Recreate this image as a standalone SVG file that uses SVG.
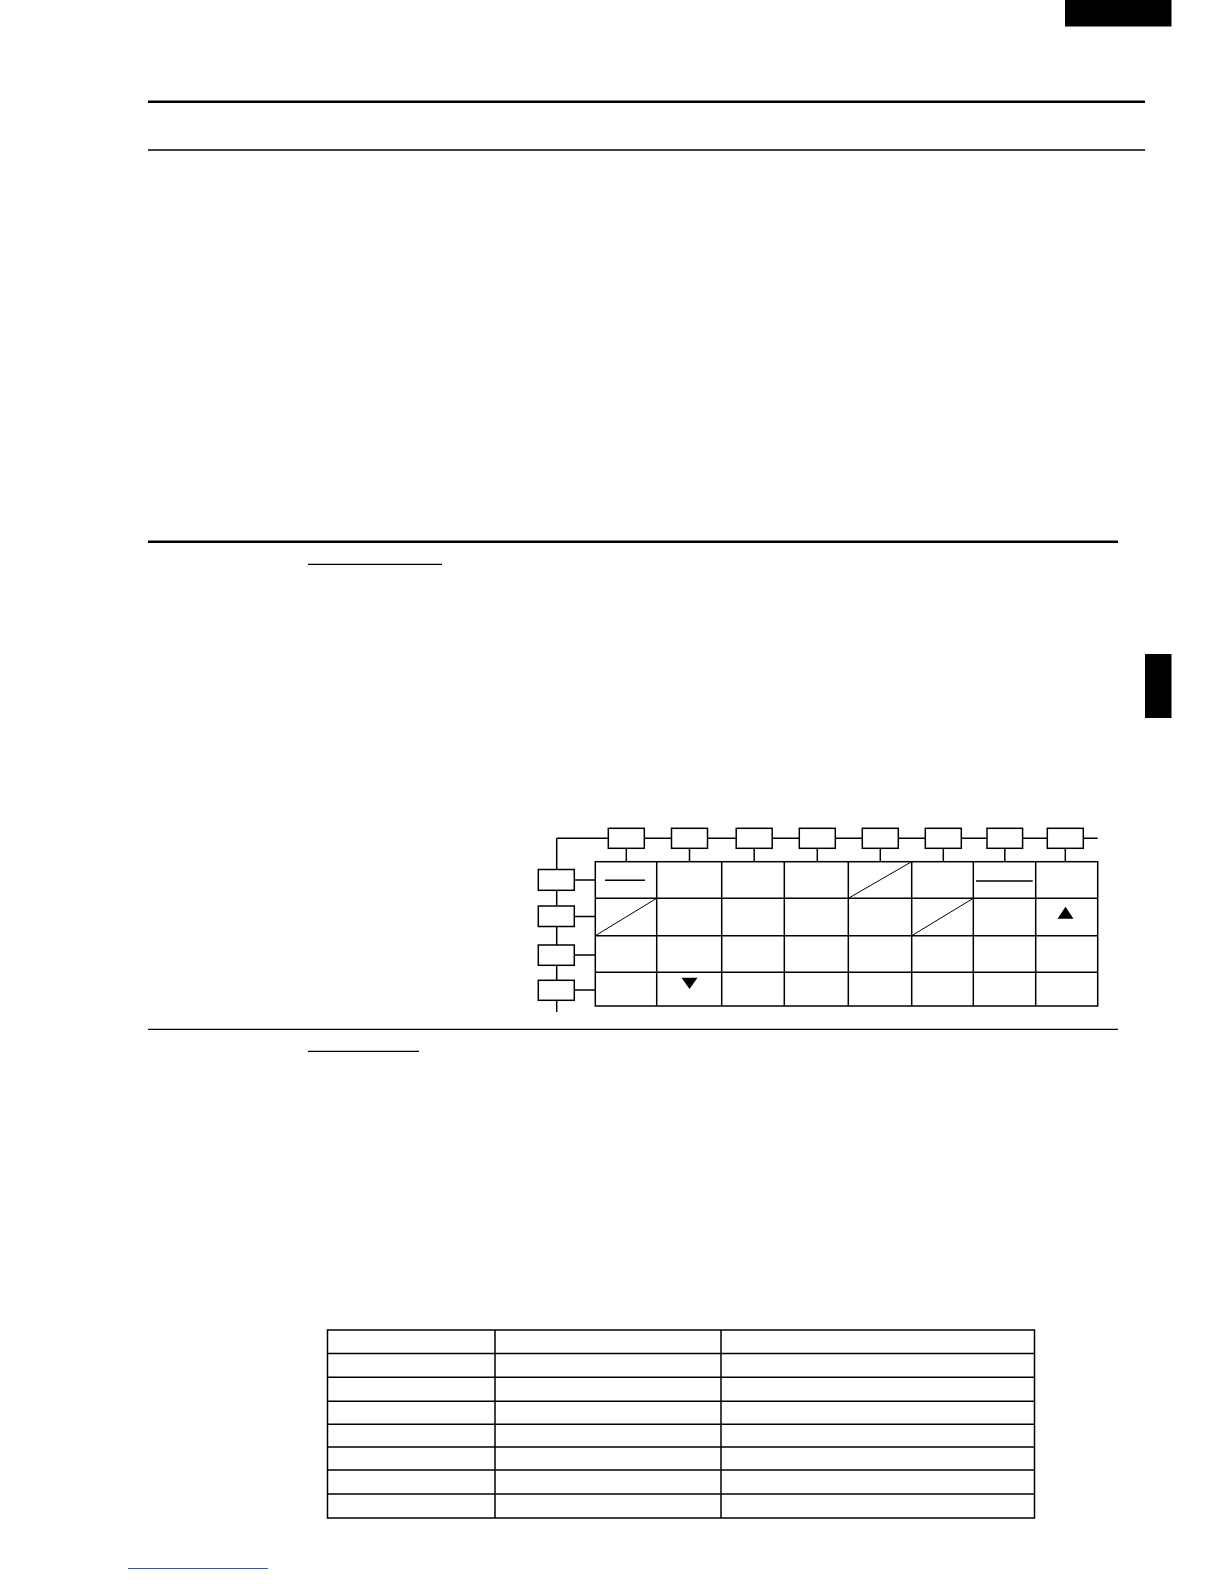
<svg xmlns="http://www.w3.org/2000/svg" width="1224" height="1584" viewBox="0 0 1224 1584">
<style>
.rule{stroke:#000;stroke-width:1.3;fill:none}
.thick{stroke:#000;stroke-width:2.4;fill:none}
.box{fill:#fff;stroke:#000;stroke-width:1.5}
.ln{stroke:#000;stroke-width:1.5;fill:none}
.diag{stroke:#000;stroke-width:1;fill:none}
.tri{fill:#000}
</style>
<rect width="1224" height="1584" fill="#fff"/>
<g id="page">
<rect x="1065" y="0" width="106.5" height="26.5" fill="#000"/>
<rect x="1145" y="654" width="26.5" height="64" fill="#000"/>
<line class="thick" x1="148" y1="101.7" x2="1145" y2="101.7"/>
<line class="rule" x1="148" y1="150" x2="1145" y2="150"/>
<line class="thick" x1="148" y1="541.7" x2="1118" y2="541.7"/>
<line class="rule" x1="308" y1="564.3" x2="442" y2="564.3"/>
<line class="rule" x1="148" y1="1029.3" x2="1118" y2="1029.3"/>
<line class="rule" x1="308" y1="1051.3" x2="419" y2="1051.3"/>
<line x1="128" y1="1568.5" x2="268" y2="1568.5" stroke="#3355cc" stroke-width="1"/>
</g>
<g id="connectors">
<line class="ln" x1="556.7" y1="838.3" x2="1097.7" y2="838.3"/>
<line class="ln" x1="556.7" y1="838.3" x2="556.7" y2="1012"/>
<line class="ln" x1="626.3" y1="848.3" x2="626.3" y2="861.7"/>
<line class="ln" x1="689.5" y1="848.3" x2="689.5" y2="861.7"/>
<line class="ln" x1="754.2" y1="848.3" x2="754.2" y2="861.7"/>
<line class="ln" x1="817.3" y1="848.3" x2="817.3" y2="861.7"/>
<line class="ln" x1="880.3" y1="848.3" x2="880.3" y2="861.7"/>
<line class="ln" x1="943.3" y1="848.3" x2="943.3" y2="861.7"/>
<line class="ln" x1="1004.8" y1="848.3" x2="1004.8" y2="861.7"/>
<line class="ln" x1="1065.3" y1="848.3" x2="1065.3" y2="861.7"/>
<line class="ln" x1="574.3" y1="880" x2="595.3" y2="880"/>
<line class="ln" x1="574.3" y1="916.5" x2="595.3" y2="916.5"/>
<line class="ln" x1="574.3" y1="955" x2="595.3" y2="955"/>
<line class="ln" x1="574.3" y1="990" x2="595.3" y2="990"/>
</g>
<g id="top-nodes">
<rect id="t1" class="box" x="608.3" y="828.3" width="36" height="20"/>
<rect id="t2" class="box" x="671.5" y="828.3" width="36" height="20"/>
<rect id="t3" class="box" x="736.2" y="828.3" width="36" height="20"/>
<rect id="t4" class="box" x="799.3" y="828.3" width="36" height="20"/>
<rect id="t5" class="box" x="862.3" y="828.3" width="36" height="20"/>
<rect id="t6" class="box" x="925.3" y="828.3" width="36" height="20"/>
<rect id="t7" class="box" x="987" y="828.3" width="35.6" height="20"/>
<rect id="t8" class="box" x="1047.3" y="828.3" width="36" height="20"/>
</g>
<g id="left-nodes">
<rect id="l1" class="box" x="538.3" y="869.5" width="36" height="20.8"/>
<rect id="l2" class="box" x="538.3" y="906" width="36" height="20.5"/>
<rect id="l3" class="box" x="538.3" y="945" width="36" height="20.3"/>
<rect id="l4" class="box" x="538.3" y="980.3" width="36" height="20"/>
</g>
<g id="grid">
<rect class="ln" x="595.3" y="861.7" width="502.4" height="144.3"/>
<line class="ln" x1="656.7" y1="861.7" x2="656.7" y2="1006"/>
<line class="ln" x1="721.7" y1="861.7" x2="721.7" y2="1006"/>
<line class="ln" x1="784.3" y1="861.7" x2="784.3" y2="1006"/>
<line class="ln" x1="848.3" y1="861.7" x2="848.3" y2="1006"/>
<line class="ln" x1="911.7" y1="861.7" x2="911.7" y2="1006"/>
<line class="ln" x1="973.3" y1="861.7" x2="973.3" y2="1006"/>
<line class="ln" x1="1035.7" y1="861.7" x2="1035.7" y2="1006"/>
<line class="ln" x1="595.3" y1="898.3" x2="1097.7" y2="898.3"/>
<line class="ln" x1="595.3" y1="935.7" x2="1097.7" y2="935.7"/>
<line class="ln" x1="595.3" y1="972.3" x2="1097.7" y2="972.3"/>
<line class="ln" x1="605" y1="880.3" x2="645" y2="880.3"/>
<line class="ln" x1="976" y1="881" x2="1032.7" y2="881"/>
<line class="diag" x1="848.3" y1="898.3" x2="911.7" y2="861.7"/>
<line class="diag" x1="595.3" y1="935.7" x2="656.7" y2="898.3"/>
<line class="diag" x1="911.7" y1="935.7" x2="973.3" y2="898.3"/>
<polygon class="tri" points="1057.5,918.7 1073.5,918.7 1065.5,906.7"/>
<polygon class="tri" points="681.5,977.7 697.5,977.7 689.5,989"/>
</g>
<g id="table">
<rect class="ln" x="327.5" y="1330" width="707" height="188"/>
<line class="ln" x1="495" y1="1330" x2="495" y2="1518"/>
<line class="ln" x1="721" y1="1330" x2="721" y2="1518"/>
<line class="ln" x1="327.5" y1="1353.5" x2="1034.5" y2="1353.5"/>
<line class="ln" x1="327.5" y1="1377.3" x2="1034.5" y2="1377.3"/>
<line class="ln" x1="327.5" y1="1401.3" x2="1034.5" y2="1401.3"/>
<line class="ln" x1="327.5" y1="1424.3" x2="1034.5" y2="1424.3"/>
<line class="ln" x1="327.5" y1="1447" x2="1034.5" y2="1447"/>
<line class="ln" x1="327.5" y1="1470" x2="1034.5" y2="1470"/>
<line class="ln" x1="327.5" y1="1494" x2="1034.5" y2="1494"/>
</g>
</svg>
